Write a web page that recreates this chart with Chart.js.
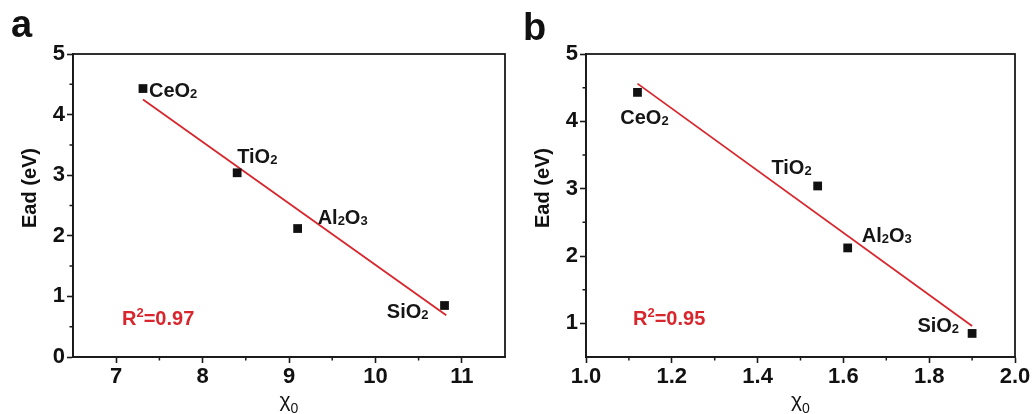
<!doctype html>
<html>
<head>
  <title>Ead vs chi0</title>
  <script src="https://cdn.jsdelivr.net/npm/chart.js@4.4.0/dist/chart.umd.min.js"></script>
  <style>
    body { margin: 0; background: #fff; }
    .panel { position: absolute; top: 0; height: 414px; }
  </style>
</head>
<body>
  <div class="panel" style="left:0;width:517px"><canvas id="chartA" width="517" height="414"></canvas></div>
  <div class="panel" style="left:517px;width:518px"><canvas id="chartB" width="518" height="414"></canvas></div>

<script>
// adsorption energy of each oxide support
var oxides = ['CeO2', 'TiO2', 'Al2O3', 'SiO2'];
var ead = [4.43, 3.04, 2.12, 0.85];
var chiA = [7.31, 8.40, 9.10, 10.80];
var chiB = [1.12, 1.54, 1.61, 1.90];

// linear fit end points
var fitAx = [7.31, 10.82];
var fitAy = [4.25, 0.69];
var fitBx = [1.12, 1.90];
var fitBy = [4.56, 0.96];
var r2A = '0.97';
var r2B = '0.95';

// axis ticks
var xTicksA = [7, 8, 9, 10, 11];
var xMinorA = [7.5, 8.5, 9.5, 10.5];
var yTicksA = [0, 1, 2, 3, 4, 5];
var yMinorA = [0.5, 1.5, 2.5, 3.5, 4.5];
var xTicksB = [1.0, 1.2, 1.4, 1.6, 1.8, 2.0];
var xMinorB = [1.1, 1.3, 1.5, 1.7, 1.9];
var yTicksB = [1, 2, 3, 4, 5];
var yMinorB = [1.5, 2.5, 3.5, 4.5];

var FONT = "'Liberation Sans', Arial, sans-serif";
var INK = '#1a1a1a';
var RED = '#d8262c';

// draws formulas like Al2O3 with small digits
function drawFormula(ctx, text, x, y, size, align) {
  var parts = text.match(/(\d+|\D+)/g);
  var sub = Math.round(size * 0.66);
  var total = 0;
  parts.forEach(function(p) {
    ctx.font = 'bold ' + (/\d/.test(p) ? sub : size) + 'px ' + FONT;
    total += ctx.measureText(p).width;
  });
  var cx = align === 'right' ? x - total : align === 'center' ? x - total / 2 : x;
  ctx.textAlign = 'left';
  ctx.textBaseline = 'alphabetic';
  parts.forEach(function(p) {
    var isNum = /\d/.test(p);
    ctx.font = 'bold ' + (isNum ? sub : size) + 'px ' + FONT;
    ctx.fillText(p, cx, y + (isNum ? 1 : 0));
    cx += ctx.measureText(p).width;
  });
}

function panelPlugin(p) {
  return {
    id: 'panel',
    afterDraw: function(chart) {
      var ctx = chart.ctx;
      var a = chart.chartArea;
      var xs = chart.scales.x, ys = chart.scales.y;
      ctx.save();

      // frame
      ctx.strokeStyle = INK;
      ctx.lineWidth = 1.8;
      ctx.strokeRect(a.left, a.top, a.right - a.left, a.bottom - a.top);

      // minor ticks
      ctx.lineWidth = 1.5;
      ctx.beginPath();
      p.xMinor.forEach(function(v) {
        var px = xs.getPixelForValue(v);
        ctx.moveTo(px, a.bottom);
        ctx.lineTo(px, a.bottom + 3.5);
      });
      p.yMinor.forEach(function(v) {
        var py = ys.getPixelForValue(v);
        ctx.moveTo(a.left - 3.5, py);
        ctx.lineTo(a.left, py);
      });
      ctx.stroke();

      ctx.fillStyle = '#111';
      // panel letter
      ctx.font = 'bold 38px ' + FONT;
      ctx.textAlign = 'left';
      ctx.textBaseline = 'alphabetic';
      ctx.fillText(p.letter, p.letterX, p.letterY);

      // y axis title
      ctx.save();
      ctx.translate(a.left - 43, a.top + 134);
      ctx.rotate(-Math.PI / 2);
      ctx.font = 'bold 20px ' + FONT;
      ctx.textAlign = 'center';
      ctx.textBaseline = 'middle';
      ctx.fillText('Ead (eV)', 0, 0);
      ctx.restore();

      // x axis title: chi with subscript 0
      var cx = (a.left + a.right) / 2;
      ctx.font = '21px ' + FONT;
      var w1 = ctx.measureText('\u03c7').width;
      ctx.font = '14px ' + FONT;
      var w2 = ctx.measureText('0').width;
      var sx = cx - (w1 + w2) / 2;
      ctx.font = '21px ' + FONT;
      ctx.fillText('\u03c7', sx, 407);
      ctx.font = '14px ' + FONT;
      ctx.fillText('0', sx + w1, 413);

      // oxide labels
      ctx.fillStyle = '#151515';
      oxides.forEach(function(name, i) {
        var pl = p.place[i];
        var px = xs.getPixelForValue(p.chi[i]);
        var py = ys.getPixelForValue(ead[i]);
        drawFormula(ctx, name, px + pl[0], py + pl[1], 20, pl[2]);
      });

      // R^2 label
      ctx.fillStyle = RED;
      var rx = a.left + p.r2dx, ry = a.bottom - 32;
      ctx.font = 'bold 20px ' + FONT;
      ctx.fillText('R', rx, ry);
      var rw = ctx.measureText('R').width;
      ctx.font = 'bold 13px ' + FONT;
      ctx.fillText('2', rx + rw, ry - 8);
      var sw = ctx.measureText('2').width;
      ctx.font = 'bold 20px ' + FONT;
      ctx.fillText('=' + p.r2, rx + rw + sw, ry);

      ctx.restore();
    }
  };
}

function makeChart(id, p) {
  var points = p.chi.map(function(v, i) { return {x: v, y: ead[i]}; });
  var fit = p.fitX.map(function(v, i) { return {x: v, y: p.fitY[i]}; });
  var tickFont = {family: FONT, size: 22, weight: 'bold'};
  var grid = {display: true, drawOnChartArea: false, drawTicks: true, tickLength: 6, tickColor: INK, tickWidth: 1.6};
  var border = {display: true, color: INK, width: 1.8};

  return new Chart(document.getElementById(id), {
    type: 'scatter',
    data: {
      datasets: [{
        data: points,
        pointStyle: 'rect',
        pointRadius: 6.2,
        pointBackgroundColor: '#111',
        pointBorderWidth: 0
      }, {
        type: 'line',
        data: fit,
        borderColor: RED,
        borderWidth: 1.8,
        pointRadius: 0,
        fill: false
      }]
    },
    options: {
      responsive: false,
      animation: false,
      devicePixelRatio: 1,
      layout: {padding: {top: 54, right: p.padRight, left: 0, bottom: 0}},
      plugins: {legend: {display: false}, tooltip: {enabled: false}},
      scales: {
        x: {
          type: 'linear',
          min: p.xMin,
          max: p.xMax,
          grid: grid,
          border: border,
          afterBuildTicks: function(s) { s.ticks = p.xTicks.map(function(v) { return {value: v}; }); },
          afterFit: function(s) { s.height = 57; },
          ticks: {
            font: tickFont,
            color: '#111',
            padding: 1,
            maxRotation: 0,
            autoSkip: false,
            callback: function(v) { return p.xFixed ? v.toFixed(1) : String(v); }
          }
        },
        y: {
          type: 'linear',
          min: p.yMin,
          max: 5,
          grid: grid,
          border: border,
          afterBuildTicks: function(s) { s.ticks = p.yTicks.map(function(v) { return {value: v}; }); },
          afterFit: function(s) { s.width = p.axisW; },
          ticks: {
            font: tickFont,
            color: '#111',
            padding: 2,
            autoSkip: false,
            callback: function(v) { return String(v); }
          }
        }
      }
    },
    plugins: [panelPlugin(p)]
  });
}

window.onload = function() {
  makeChart('chartA', {
    chi: chiA, fitX: fitAx, fitY: fitAy, r2: r2A,
    xMin: 6.5, xMax: 11.5, yMin: 0, xFixed: false,
    xTicks: xTicksA, xMinor: xMinorA, yTicks: yTicksA, yMinor: yMinorA,
    axisW: 73, padRight: 12, r2dx: 49,
    letter: 'a', letterX: 11, letterY: 37,
    place: [[6, 8, 'left'], [0, -10, 'left'], [20, -5, 'left'], [-16, 13, 'right']]
  });
  makeChart('chartB', {
    chi: chiB, fitX: fitBx, fitY: fitBy, r2: r2B,
    xMin: 1.0, xMax: 2.0, yMin: 0.5, xFixed: true,
    xTicks: xTicksB, xMinor: xMinorB, yTicks: yTicksB, yMinor: yMinorB,
    axisW: 69, padRight: 20, r2dx: 47,
    letter: 'b', letterX: 6, letterY: 40,
    place: [[7, 32, 'center'], [-6, -12, 'right'], [14, -6, 'left'], [-13, -1, 'right']]
  });
};
</script>
</body>
</html>
